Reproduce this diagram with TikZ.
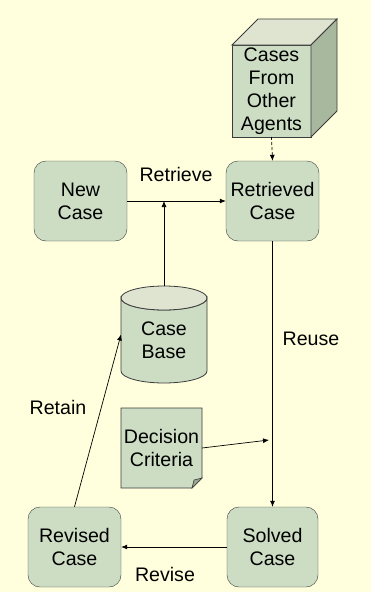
\documentclass[tikz,border=0pt]{standalone}
\usepackage{fontspec}
\setmainfont{Liberation Sans}
\usetikzlibrary{arrows.meta,calc}

\definecolor{paper}{RGB}{255,255,221}
\definecolor{cellfill}{RGB}{204,221,196}
\definecolor{edge}{RGB}{60,60,60}
\definecolor{topfill}{RGB}{222,228,208}
\definecolor{sidefill}{RGB}{168,184,158}
\definecolor{foldfill}{RGB}{150,166,142}

\tikzset{
  casebox/.style={draw=edge, fill=cellfill, rounded corners=12pt,
    minimum width=93pt, minimum height=80pt, align=center, inner sep=0pt},
  helper/.style={inner sep=0pt, outer sep=0pt, align=center},
  link/.style={draw=black, line width=0.7pt, -{Latex[length=6pt,width=5pt]}},
  shapeline/.style={draw=edge, line width=0.8pt},
}

\begin{document}
\begin{tikzpicture}[x=1pt, y=-1pt,
  every node/.style={font=\fontsize{19.6}{23}\selectfont}]

% page background
\path[use as bounding box, fill=paper] (0,0) rectangle (371,592);

% case base cylinder
\path[shapeline, fill=cellfill]
  (121,298) -- (121,371)
  arc[start angle=180, end angle=360, x radius=43pt, y radius=12pt]
  -- (207,298)
  arc[start angle=0, end angle=-180, x radius=43pt, y radius=12pt] -- cycle;
\path[shapeline, fill=topfill] (164,298) ellipse[x radius=43pt, y radius=12pt];
\node[helper, minimum width=86pt, minimum height=97pt] (cb) at (164,334.5) {};
\node[helper] (cbt) at (164,340) {Case\\Base};

% decision criteria document with folded corner
\path[shapeline, fill=cellfill]
  (121,408) -- (202,408) -- (202,478) -- (192,488) -- (121,488) -- cycle;
\path[shapeline, fill=foldfill, line width=0.6pt]
  (202,478) -- (192,488) -- (194,480) -- cycle;
\node[helper, minimum width=81pt, minimum height=80pt] (dc) at (161.5,448)
  {Decision\\Criteria};

% cases from other agents (box in perspective)
\node[helper, draw=edge, line width=0.8pt, fill=cellfill,
  minimum width=79pt, minimum height=92pt] (ag) at (271.5,91)
  {Cases\\From\\Other\\Agents};
\path[shapeline, fill=topfill]
  (ag.north west) -- ++(26,-26) -- ++(79,0) -- (ag.north east) -- cycle;
\path[shapeline, fill=sidefill]
  (ag.north east) -- ++(26,-26) -- ++(0,92) -- (ag.south east) -- cycle;

% the four case states
\node[casebox] (new) at (80.5,201) {New\\Case};
\node[casebox] (ret) at (272.5,201) {Retrieved\\Case};
\node[casebox, minimum width=91pt] (sol) at (272.5,547) {Solved\\Case};
\node[casebox] (rev) at (74.5,547) {Revised\\Case};

% junction points on the connectors
\coordinate (j) at (164,201);
\coordinate (dm) at (269,440);

% connectors
\draw[link] (new.east) -- (ret.west);
\draw[link] (cb.north) -- (j);
\draw[link, dash pattern=on 3pt off 2pt] (ag.south) -- (ret.north);
\draw[link] (ret.south) -- (sol.north);
\draw[link] (dc.east) -- (dm);
\draw[link] (sol.west) -- (rev.east);
\draw[link] (rev.north) -- (cb.west);

% step labels
\node (lretrieve) at (176,174) {Retrieve};
\node (lreuse) at (311,339) {Reuse};
\node (lretain) at (58,407) {Retain};
\node (lrevise) at (165,574) {Revise};

\end{tikzpicture}
\end{document}
